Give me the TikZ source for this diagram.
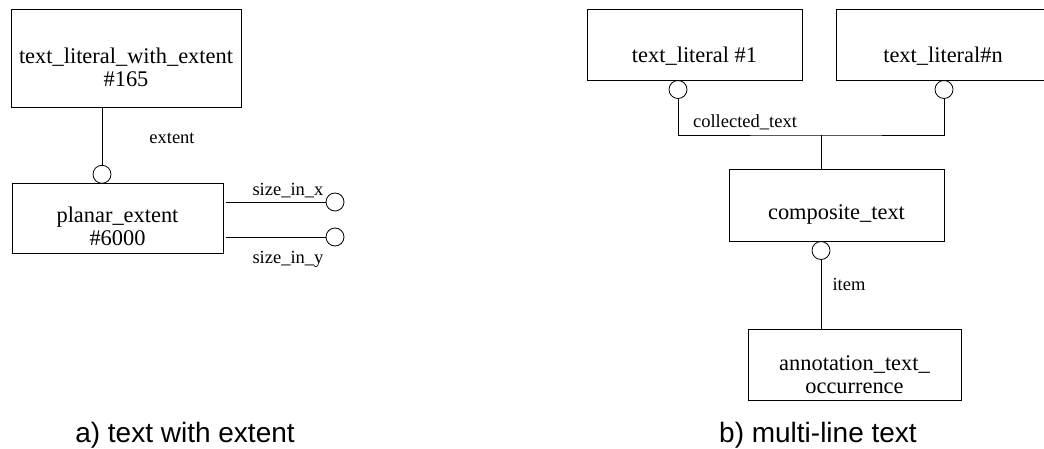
\documentclass[tikz,border=0pt]{standalone}
\usepackage{fontspec}
\setmainfont{Liberation Serif}
\newfontfamily\capfont{Liberation Sans}
\newcommand{\etext}[2]{\raisebox{-#1}[0pt][0pt]{\begin{tabular}[b]{@{}c@{}}#2\end{tabular}}}
\begin{document}
\begin{tikzpicture}[x=1pt,y=-1pt,
  entity/.style={draw=black,line width=0.8pt,rectangle,inner sep=0pt,
    font=\fontsize{22.4}{23.5}\selectfont},
  circ/.style={draw=black,line width=0.8pt,circle,inner sep=0pt,minimum size=18pt,fill=white},
  lbl/.style={inner sep=0pt,font=\fontsize{18.5}{22}\selectfont},
  captext/.style={inner sep=0pt,font=\capfont\fontsize{28}{32}\selectfont},
  conn/.style={draw=black,line width=0.8pt}]
\useasboundingbox (0,0) rectangle (1044,449);
\clip (0,0) rectangle (1044,449);
% ---- a) text with extent
\node[entity,minimum width=230pt,minimum height=98pt] (tlwe) at (126,58) {\etext{29pt}{text\_literal\_with\_extent\\\#165}};
\node[entity,minimum width=211pt,minimum height=70pt] (pe) at (117.5,218) {\etext{28pt}{planar\_extent\\\#6000}};
\node[circ] (c1) at (102,174.3) {};
\draw[conn] (c1.north) -- (c1.north |- tlwe.south);
\node[lbl] (lext) at (172,138) {extent};
\node[circ] (c2) at (335,202) {};
\node[circ] (c3) at (335,237) {};
\coordinate (sx) at (226,202);
\coordinate (sy) at (226,237);
\draw[conn] (sx) -- (c2.west);
\draw[conn] (sy) -- (c3.west);
\node[lbl] (lsx) at (288,191) {size\_in\_x};
\node[lbl] (lsy) at (288,259) {size\_in\_y};
% ---- b) multi-line text
\node[entity,minimum width=215pt,minimum height=71pt] (tl1) at (694.5,44.5) {\etext{18pt}{text\_literal \#1}};
\node[entity,minimum width=214pt,minimum height=71pt] (tln) at (943,44.5) {\etext{18pt}{text\_literal\#n}};
\node[circ] (c4) at (678,89.5) {};
\node[circ] (c5) at (944,89.5) {};
\node[entity,minimum width=215pt,minimum height=72pt] (comp) at (836.5,205) {\etext{15pt}{composite\_text}};
\coordinate (jn) at (821,135);
\draw[conn] (c4.south) |- (jn) -| (c5.south);
\draw[conn] (jn) -- (jn |- comp.north);
\node[lbl] (lcol) at (745,122) {collected\_text};
\node[entity,minimum width=213pt,minimum height=71pt] (ann) at (854.5,364.5) {\etext{29pt}{annotation\_text\_\\occurrence}};
\node[circ] (c6) at (821,250.5) {};
\draw[conn] (c6.south) -- (c6.south |- ann.north);
\node[lbl] (litem) at (849,284) {item};
% ---- captions
\node[captext] (capa) at (185,435) {a) text with extent};
\node[captext] (capb) at (818,435) {b) multi-line text};
\end{tikzpicture}
\end{document}
